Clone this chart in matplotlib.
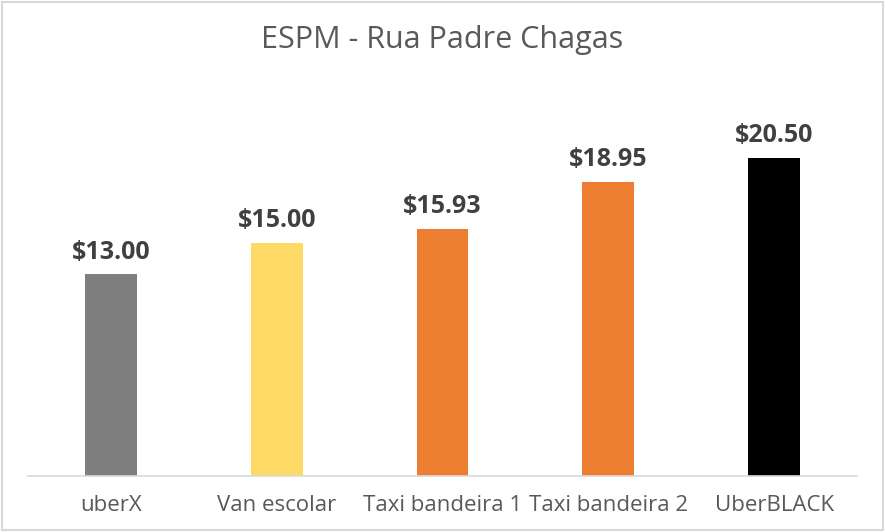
import matplotlib.pyplot as plt
from matplotlib.patches import FancyBboxPatch

categories = ['uberX', 'Van escolar', 'Taxi bandeira 1', 'Taxi bandeira 2', 'UberBLACK']
prices = [13.00, 15.00, 15.93, 18.95, 20.50]
colors = ['#7f7f7f', '#ffd966', '#ed7d31', '#ed7d31', '#000000']

plt.rcParams['font.family'] = ['Open Sans', 'DejaVu Sans']

fig = plt.figure(figsize=(8.85, 5.32), dpi=100)
ax = fig.add_axes([28 / 885, 56 / 532, 829 / 885, 388 / 532])

x = range(len(categories))
ax.bar(x, prices, width=52 / 166, color=colors)

for i, v in enumerate(prices):
    ax.annotate(f'${v:.2f}', (i, v), xytext=(0, 7), textcoords='offset points',
                ha='center', va='bottom', fontsize=18, fontweight='bold', color='#404040')

ax.set_xlim(-0.5, len(categories) - 0.5)
ax.set_ylim(0, 25)
ax.set_xticks(list(x))
ax.set_xticklabels(categories, fontsize=16, color='#595959')
ax.tick_params(axis='x', length=0, pad=14)
ax.set_yticks([])
for s in ['top', 'right', 'left']:
    ax.spines[s].set_visible(False)
ax.spines['bottom'].set_color('#d9d9d9')
ax.spines['bottom'].set_linewidth(1.2)

fig.text(0.5, 1 - 40 / 532, 'ESPM - Rua Padre Chagas', ha='center', va='center',
         fontsize=22, color='#595959')

# light border around the chart area
border = FancyBboxPatch((2 / 885, 2 / 532), 881 / 885, 528 / 532,
                        boxstyle='square,pad=0', transform=fig.transFigure,
                        fill=False, edgecolor='#d9d9d9', linewidth=1.5)
fig.patches.append(border)

plt.savefig('out.png', dpi=100)
